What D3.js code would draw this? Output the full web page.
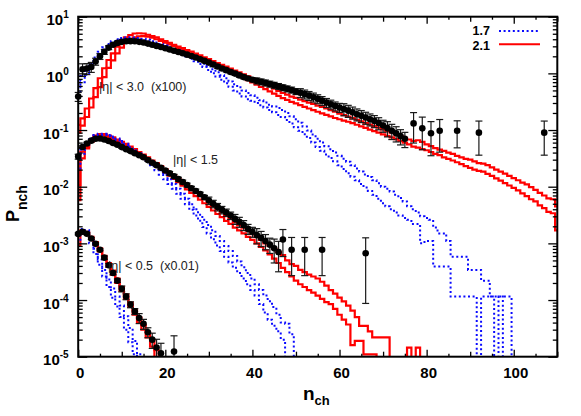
<!DOCTYPE html>
<html><head><meta charset="utf-8">
<script src="https://cdn.jsdelivr.net/npm/d3@7"></script>
<style>
html,body{margin:0;padding:0;background:#fff;}
svg{display:block;font-family:"Liberation Sans",Arial,Helvetica,sans-serif;}
</style></head>
<body><svg id="c" width="581" height="416"></svg>
<script>
// ---------------- DATA ----------------
const xTickLabels = [0, 20, 40, 60, 80, 100];
const yDecades = [1e-5, 1e-4, 1e-3, 1e-2, 1e-1, 1, 10];
const legendLabels = ["1.7", "2.1"];
const regionLabels = ["|\u03b7| < 3.0  (x100)", "|\u03b7| < 1.5", "|\u03b7| < 0.5  (x0.01)"];

// |eta|<3.0 (x100): data, index = n_ch
const eta30Data = [0.39,1.18,1.22,1.30,1.62,2.0,2.4,2.85,3.2,3.45,
 3.6,3.68,3.7,3.68,3.6,3.5,3.35,3.2,3.05,2.92,
 2.78,2.64,2.5,2.38,2.26,2.14,2.02,1.9,1.78,1.66,
 1.55,1.43,1.32,1.22,1.14,1.06,0.99,0.92,0.86,0.81,
 0.77,0.74,0.71,0.68,0.65,0.62,0.59,0.56,0.535,0.51,
 0.48,0.455,0.43,0.405,0.38,0.355,0.33,0.305,0.285,0.265,
 0.25,0.235,0.22,0.205,0.19,0.178,0.166,0.155,0.145,0.133,
 0.12,0.108,0.097,0.088,0.078,0.07];
const eta30RelErr = [0.18,0.25,0.22,0.2,0.14,0.12,0.1,0.08,0.07,0.06,
 0.05,0.05,0.05,0.05,0.05,0.05,0.05,0.05,0.05,0.05,
 0.05,0.05,0.05,0.05,0.05,0.05,0.05,0.05,0.05,0.05,
 0.05,0.07,0.07,0.07,0.07,0.07,0.07,0.07,0.07,0.07,
 0.07,0.12,0.12,0.12,0.12,0.12,0.12,0.12,0.12,0.12,
 0.12,0.18,0.18,0.18,0.18,0.18,0.18,0.18,0.18,0.18,
 0.18,0.24,0.24,0.24,0.24,0.24,0.24,0.24,0.24,0.24,
 0.24,0.3,0.3,0.3,0.3,0.3];
const eta30TailN = [77, 79, 81, 83, 87, 92, 107];
const eta30TailVal = [0.131, 0.107, 0.088, 0.097, 0.097, 0.09, 0.09];
const eta30TailErr = [0.55, 0.58, 0.6, 0.58, 0.5, 0.6, 0.6];

const eta30Red1 = [0.123,0.16,0.24,0.36,0.55,0.82,1.23,1.72,2.26,2.96,
 3.62,4.33,4.75,5.05,5.1,5.05,4.8,4.55,4.3,4.0,
 3.72,3.45,3.2,2.98,2.78,2.58,2.42,2.24,2.08,1.92,
 1.78,1.65,1.52,1.41,1.31,1.21,1.12,1.04,0.96,0.89,
 0.82,0.76,0.70,0.64,0.59,0.54,0.49,0.45,0.42,0.39,
 0.37,0.345,0.325,0.305,0.29,0.27,0.255,0.24,0.225,0.21,
 0.195,0.183,0.172,0.162,0.152,0.142,0.133,0.125,0.117,0.11,
 0.103,0.096,0.09,0.084,0.078,0.073,0.068,0.064,0.066,0.062,
 0.056,0.052,0.048,0.045,0.043,0.04,0.038,0.035,0.033,0.031,
 0.03,0.028,0.026,0.0255,0.024,0.022,0.02,0.0185,0.017,0.0155,
 0.0142,0.013,0.0118,0.011,0.0098,0.0088,0.0078,0.007,0.0062,0.006,0.0045];
const eta30Red2 = [0.09,0.12,0.17,0.25,0.38,0.57,0.86,1.25,1.7,2.25,
 2.85,3.45,3.95,4.3,4.5,4.55,4.45,4.25,4.0,3.75,
 3.5,3.25,3.02,2.8,2.6,2.42,2.25,2.08,1.93,1.78,
 1.64,1.51,1.39,1.28,1.18,1.08,0.99,0.91,0.83,0.76,
 0.69,0.63,0.575,0.525,0.48,0.44,0.4,0.365,0.34,0.315,
 0.295,0.275,0.257,0.24,0.225,0.21,0.197,0.185,0.174,0.163,
 0.155,0.147,0.14,0.132,0.124,0.116,0.109,0.102,0.096,0.09,
 0.084,0.079,0.074,0.069,0.064,0.06,0.056,0.051,0.049,0.046,
 0.044,0.041,0.038,0.036,0.033,0.031,0.029,0.027,0.025,0.023,
 0.0215,0.02,0.019,0.0184,0.0168,0.0155,0.014,0.0128,0.0116,0.0105,
 0.0095,0.0086,0.0076,0.0068,0.006,0.0055,0.0047,0.0042,0.0036,0.0034,0.0017];
const eta30Blue1 = [0.6,0.9,1.1,1.5,1.9,2.4,2.9,3.3,3.7,4.0,
 4.2,4.3,4.35,4.3,4.2,4.05,3.9,3.7,3.5,3.3,
 3.1,2.9,2.7,2.52,2.35,2.18,2.0,1.82,1.65,1.48,
 1.32,1.18,1.05,0.93,0.82,0.72,0.64,0.57,0.5,0.45,
 0.41,0.37,0.335,0.305,0.28,0.26,0.245,0.225,0.2,0.175,
 0.155,0.135,0.115,0.098,0.083,0.07,0.06,0.052,0.046,0.04,
 0.035,0.031,0.0276,0.024,0.021,0.0185,0.0165,0.0148,0.013,0.0115,
 0.01,0.0092,0.0082,0.0072,0.0063,0.0055,0.0045,0.004,0.0035,0.003,
 0.0028,0.0026,0.0019,0.0015,0.0015,0.0011,0.00058,0.00058,0.00058,0.00058,
 0.00034,0.00034,0.00034,0.00022,0.00022,0.000115,0.000115,0.000115,0.000115,0.000115,0];
const eta30Blue2 = [0.45,0.7,0.95,1.3,1.7,2.15,2.6,3.0,3.4,3.7,
 3.9,4.0,4.05,4.0,3.9,3.75,3.6,3.42,3.24,3.06,
 2.88,2.7,2.52,2.35,2.18,2.0,1.82,1.64,1.47,1.3,
 1.15,1.0,0.88,0.77,0.67,0.58,0.5,0.44,0.39,0.35,
 0.33,0.3,0.275,0.25,0.225,0.205,0.185,0.17,0.15,0.13,
 0.112,0.097,0.084,0.072,0.06,0.05,0.043,0.037,0.032,0.028,
 0.024,0.0205,0.0173,0.015,0.013,0.0112,0.0097,0.0084,0.0072,0.0061,
 0.0051,0.0045,0.004,0.0035,0.0031,0.0028,0.0026,0.0022,0.0022,0.001,
 0.0011,0.0011,0.00039,0.00039,0.00039,0.00039,0.000115,0.000115,0.000115,0.000115,
 0.000115,0.000115,0,0.000115,0.000115,0.000115,0,0.000115,0];

// |eta|<1.5
const eta15Data = [0.034,0.05,0.058,0.065,0.07,0.071,0.068,0.064,0.059,0.055,
 0.05,0.046,0.0425,0.039,0.036,0.033,0.0295,0.0265,0.024,0.0215,
 0.0193,0.0172,0.0153,0.0136,0.0121,0.0107,0.0094,0.0084,0.0074,0.0065,
 0.0057,0.005,0.0044,0.0039,0.0035,0.0031,0.0027,0.0024,0.0021,0.0018,
 0.0016,0.0014,0.00125,0.0011,0.00095,0.00082,0.0007];
const eta15RelErr = [0.1,0.05,0.05,0.05,0.05,0.05,0.05,0.05,0.05,0.05,
 0.05,0.05,0.05,0.05,0.05,0.05,0.05,0.05,0.05,0.05,
 0.05,0.08,0.08,0.08,0.08,0.08,0.08,0.08,0.08,0.08,
 0.15,0.15,0.15,0.15,0.15,0.15,0.2,0.2,0.2,0.2,
 0.2,0.3,0.3,0.3,0.3,0.45,0.55];
const eta15TailN = [47, 49, 52, 56, 66];
const eta15TailVal = [0.00117, 0.00077, 0.00077, 0.00077, 0.00067];
const eta15TailErr = [0.5, 0.65, 0.65, 0.65, 0.87];

const eta15Red1 = [0.0107,0.0415,0.05,0.067,0.08,0.085,0.085,0.08,0.074,0.068,
 0.062,0.057,0.051,0.046,0.041,0.037,0.033,0.029,0.026,0.023,
 0.0205,0.018,0.0158,0.0138,0.012,0.0104,0.009,0.0079,0.007,0.0061,
 0.0054,0.0047,0.0041,0.0036,0.0031,0.0027,0.0024,0.0021,0.0019,0.0017,
 0.0015,0.0013,0.00115,0.001,0.0009,0.0008,0.0007,0.00062,0.0005,0.00043,
 0.0004,0.00034,0.00031,0.00028,0.00026,0.00024,0.00021,0.00018,0.00015,0.00013,
 0.00011,0.000095,0.00008,0.000065,0.00005,0.000035,0.000035,0.000028,0.000022,0.000022,
 0.000022,0.000022,0,0,0,0,0.0000145,0,0.0000145,0];
const eta15Red2 = [0.0058,0.0317,0.0476,0.062,0.075,0.08,0.08,0.076,0.07,0.064,
 0.058,0.052,0.047,0.042,0.0375,0.0335,0.0298,0.0263,0.0232,0.0204,
 0.0179,0.0157,0.0137,0.012,0.0104,0.009,0.0078,0.0068,0.0059,0.0051,
 0.0044,0.0038,0.0033,0.0029,0.0025,0.0022,0.0019,0.0017,0.0015,0.0013,
 0.00115,0.001,0.00087,0.00075,0.00064,0.00054,0.00045,0.00037,0.00031,0.00026,
 0.00022,0.00019,0.00017,0.00015,0.000135,0.00012,0.000105,0.000092,0.000085,0.00007,
 0.000055,0.000045,0.000037,0.000016,0.000019,0.000019,0.000011,0.000011,0.000011,0];
const eta15Blue1 = [0.03,0.045,0.06,0.072,0.082,0.086,0.086,0.082,0.077,0.071,
 0.064,0.057,0.05,0.044,0.039,0.034,0.03,0.026,0.023,0.0195,
 0.0163,0.0135,0.0112,0.0092,0.0075,0.0061,0.0049,0.004,0.0032,0.0026,
 0.0021,0.0017,0.00135,0.0011,0.0009,0.00073,0.0006,0.00048,0.00038,0.0003,
 0.00024,0.00019,0.00015,0.00012,0.000095,0.000075,0.000055,0.00004,0.000038,0.000025,0];
const eta15Blue2 = [0.02,0.038,0.055,0.068,0.078,0.082,0.082,0.078,0.073,0.067,
 0.06,0.053,0.047,0.041,0.036,0.031,0.027,0.023,0.0195,0.0163,
 0.0135,0.0112,0.0092,0.0075,0.0061,0.0049,0.0039,0.0031,0.0025,0.00195,
 0.0015,0.00118,0.00092,0.00073,0.00058,0.00046,0.00037,0.0003,0.00024,0.00019,
 0.00015,0.00012,0.000085,0.00006,0.000045,0.000035,0.000028,0.00002,0];

// |eta|<0.5 (x0.01)
const eta05Data = [0.00147,0.0016,0.00148,0.00122,0.00098,0.00077,0.00056,0.00041,0.0003,0.00022,
 0.000158,0.000115,0.000083,0.000063,0.000048,0.000038,0.000027,0.00002,0.0000145,0.0000115];
const eta05RelErr = [0.04,0.04,0.04,0.04,0.04,0.04,0.07,0.07,0.07,0.07,
 0.12,0.12,0.12,0.12,0.2,0.2,0.2,0.3,0.4,0.5];
const eta05TailN = [22];
const eta05TailVal = [0.0000123];
const eta05TailErr = [0.9];
const eta05Red1 = [0.0015,0.0017,0.0016,0.0013,0.00105,0.00082,0.0006,0.00045,0.00033,0.00024,
 0.00017,0.000125,0.00009,0.000066,0.000049,0.000036,0.000027,0.00002,0.000013,0];
const eta05Red2 = [0.0009,0.0015,0.0015,0.0012,0.00095,0.00072,0.00053,0.00039,0.00028,0.0002,
 0.000145,0.000105,0.000076,0.000055,0.00004,0.00003,0.000022,0.000015,0];
const eta05Blue1 = [0.0015,0.0018,0.0017,0.0012,0.0008,0.00052,0.00034,0.00023,0.00016,0.000115,
 0.00008,0.000052,0.000032,0.000019,0.000011,0];
const eta05Blue2 = [0.0011,0.0016,0.0015,0.001,0.00065,0.00042,0.00026,0.00017,0.00011,0.000077,
 0.00005,0.00003,0.000018,0.000011,0];

// ---------------- CHART ----------------
const svg = d3.select("#c");
svg.append("rect").attr("width",581).attr("height",416).attr("fill","#fff");
const L = 78.2, R = 557.3, T = 16.7, B = 356.7;
const x = d3.scaleLinear().domain([0,110]).range([L,R]);
const y = d3.scaleLog().domain([1e-5,10]).range([B,T]);

svg.append("clipPath").attr("id","clip").append("rect")
  .attr("x",L).attr("y",T).attr("width",R-L).attr("height",B-T);

const plot = svg.append("g").attr("clip-path","url(#clip)");
const line = d3.line().x(d=>x(d[0])).y(d=> d[1]>0 ? y(d[1]) : B+20);
function histPts(vals){
  const pts=[];
  vals.forEach((v,i)=>{pts.push([i-0.5,v]);pts.push([i+0.5,v]);});
  return pts;
}
const RED="#ff0000", BLUE="#0a0aff";
const redSeries=[eta30Red1,eta30Red2,eta15Red1,eta15Red2,eta05Red1,eta05Red2];
const blueSeries=[eta30Blue1,eta30Blue2,eta15Blue1,eta15Blue2,eta05Blue1,eta05Blue2];
redSeries.forEach(s=>{
  plot.append("path").attr("d",line(histPts(s))).attr("fill","none")
    .attr("stroke",RED).attr("stroke-width",2.2).attr("stroke-linejoin","miter");
});
blueSeries.forEach(s=>{
  plot.append("path").attr("d",line(histPts(s))).attr("fill","none")
    .attr("stroke",BLUE).attr("stroke-width",2).attr("stroke-dasharray","2,2.6");
});

// data points
function pointsFrom(vals, errs, ns){
  return vals.map((v,i)=>({n: ns? ns[i] : i, v:v, e: v*errs[i]}));
}
const allPts = [].concat(
  pointsFrom(eta30Data, eta30RelErr), pointsFrom(eta30TailVal, eta30TailErr, eta30TailN),
  pointsFrom(eta15Data, eta15RelErr), pointsFrom(eta15TailVal, eta15TailErr, eta15TailN),
  pointsFrom(eta05Data, eta05RelErr), pointsFrom(eta05TailVal, eta05TailErr, eta05TailN));
const eb = svg.append("g").attr("stroke","#1a1a1a").attr("stroke-width",1.2);
const capW = 3.5;
allPts.forEach(p=>{
  const cx = x(p.n);
  const yt = y(p.v+p.e);
  const lo = p.v-p.e;
  const yb = lo>1e-5 ? y(lo) : B;
  eb.append("line").attr("x1",cx).attr("x2",cx).attr("y1",yt).attr("y2",yb);
  eb.append("line").attr("x1",cx-capW).attr("x2",cx+capW).attr("y1",yt).attr("y2",yt);
  if(lo>1e-5) eb.append("line").attr("x1",cx-capW).attr("x2",cx+capW).attr("y1",yb).attr("y2",yb);
});
svg.append("g").selectAll("circle").data(allPts).join("circle")
  .attr("cx",d=>x(d.n)).attr("cy",d=>y(d.v)).attr("r",3.3).attr("fill","#000");

// axes ticks
function styleAxis(g){ g.select(".domain").remove(); g.selectAll("line").attr("stroke","#000").attr("stroke-width",1.3); }
const xMajor=[0,20,40,60,80,100], xMid=[10,30,50,70,90,110], xMinor=[5,15,25,35,45,55,65,75,85,95,105];
const gxb = svg.append("g").attr("transform",`translate(0,${B})`)
  .call(d3.axisBottom(x).tickValues(xTickLabels).tickSize(-7).tickPadding(11));
gxb.call(styleAxis);
gxb.selectAll("text").attr("font-size",15).attr("font-weight","bold").attr("fill","#000")
  .attr("font-family","Liberation Sans, Arial, sans-serif").attr("dx",1.5);
svg.append("g").attr("transform",`translate(0,${B})`).call(d3.axisBottom(x).tickValues(xMid).tickSize(-5).tickFormat("")).call(styleAxis);
svg.append("g").attr("transform",`translate(0,${B})`).call(d3.axisBottom(x).tickValues(xMinor).tickSize(-3).tickFormat("")).call(styleAxis);
svg.append("g").attr("transform",`translate(0,${T})`).call(d3.axisTop(x).tickValues(xMajor).tickSize(-7).tickFormat("")).call(styleAxis);
svg.append("g").attr("transform",`translate(0,${T})`).call(d3.axisTop(x).tickValues(xMid).tickSize(-5).tickFormat("")).call(styleAxis);
svg.append("g").attr("transform",`translate(0,${T})`).call(d3.axisTop(x).tickValues(xMinor).tickSize(-3).tickFormat("")).call(styleAxis);

const yMinor=[];
yDecades.slice(0,-1).forEach(d=>{for(let k=2;k<=9;k++) yMinor.push(d*k);});
const gyl = svg.append("g").attr("transform",`translate(${L},0)`)
  .call(d3.axisLeft(y).tickValues(yDecades).tickSize(-9).tickPadding(9.5));
gyl.call(styleAxis);
gyl.selectAll("text").each(function(d){
  const t=d3.select(this);
  const e=Math.round(Math.log10(d));
  t.text(null).attr("dy","0.55em").attr("font-size",15).attr("font-weight","bold").attr("fill","#000")
   .attr("font-family","Liberation Sans, Arial, sans-serif");
  t.append("tspan").text("10");
  t.append("tspan").attr("dy",-7).attr("font-size",10).text(e);
});
svg.append("g").attr("transform",`translate(${L},0)`).call(d3.axisLeft(y).tickValues(yMinor).tickSize(-4.5).tickFormat("")).call(styleAxis);
svg.append("g").attr("transform",`translate(${R},0)`).call(d3.axisRight(y).tickValues(yDecades).tickSize(-9).tickFormat("")).call(styleAxis);
svg.append("g").attr("transform",`translate(${R},0)`).call(d3.axisRight(y).tickValues(yMinor).tickSize(-4.5).tickFormat("")).call(styleAxis);

// frame
svg.append("rect").attr("x",L).attr("y",T).attr("width",R-L).attr("height",B-T)
  .attr("fill","none").attr("stroke","#000").attr("stroke-width",2);

// region labels
const regPos=[[99,91],[173,164],[108,270]];
regionLabels.forEach((s,i)=>{
  svg.append("text").attr("x",regPos[i][0]).attr("y",regPos[i][1]).attr("font-size",12.5)
    .attr("fill","#222").style("white-space","pre").text(s);
});

// legend
const legColors=[BLUE,RED], legY=[31,44.3], legBase=[34.8,49.6];
legendLabels.forEach((s,i)=>{
  svg.append("text").attr("x",490).attr("y",legBase[i]).attr("text-anchor","end")
    .attr("font-size",12.5).attr("font-weight","bold").text(s);
  const ln=svg.append("line").attr("x1",499).attr("x2",540).attr("y1",legY[i]).attr("y2",legY[i])
    .attr("stroke",legColors[i]).attr("stroke-width",2);
  if(i===0) ln.attr("stroke-dasharray","2,2.6");
});

// axis titles
const xt = svg.append("text").attr("x",303).attr("y",400).attr("font-weight","bold").attr("font-size",19);
xt.append("tspan").text("n");
xt.append("tspan").attr("dy",5).attr("font-size",13).text("ch");
const yt = svg.append("text").attr("transform","translate(18.5,222) rotate(-90)")
  .attr("font-weight","bold").attr("font-size",18);
yt.append("tspan").text("P");
yt.append("tspan").attr("dy",8).attr("font-size",14).text("n");
yt.append("tspan").attr("font-size",14).text("ch");
</script>
</body></html>
